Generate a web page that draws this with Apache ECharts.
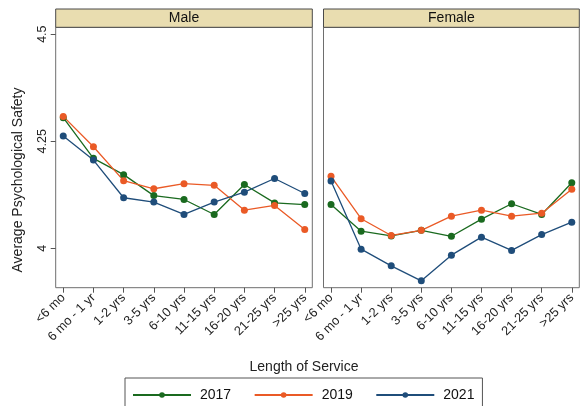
<!DOCTYPE html>
<html>
<head>
<meta charset="utf-8">
<script src="https://cdn.jsdelivr.net/npm/echarts@6/dist/echarts.min.js"></script>
<style>
  html, body { margin: 0; padding: 0; background: #fff; }
  #chart { width: 580px; height: 406px; }
</style>
</head>
<body>
<div id="chart"></div>
<script>
// Length-of-service bands shown along both panels
const serviceBands = ['<6 mo', '6 mo - 1 yr', '1-2 yrs', '3-5 yrs', '6-10 yrs', '11-15 yrs', '16-20 yrs', '21-25 yrs', '>25 yrs'];
const panels = ['Male', 'Female'];
const years = ['2017', '2019', '2021'];
const yTicks = [4, 4.25, 4.5];

// Average psychological safety by survey year, male respondents
const male2017 = [4.305, 4.210, 4.172, 4.123, 4.114, 4.079, 4.149, 4.106, 4.102];
const male2019 = [4.308, 4.237, 4.158, 4.139, 4.151, 4.147, 4.089, 4.100, 4.044];
const male2021 = [4.262, 4.206, 4.118, 4.108, 4.079, 4.108, 4.131, 4.163, 4.128];

// Average psychological safety by survey year, female respondents
const female2017 = [4.102, 4.040, 4.029, 4.042, 4.028, 4.068, 4.104, 4.079, 4.153];
const female2019 = [4.168, 4.069, 4.030, 4.042, 4.075, 4.089, 4.075, 4.082, 4.138];
const female2021 = [4.157, 3.998, 3.959, 3.924, 3.984, 4.026, 3.995, 4.032, 4.061];

const yearColors = { '2017': '#1a6a1f', '2019': '#ea5a26', '2021': '#1f4d7a' };
const FONT = '"Liberation Sans", Arial, Helvetica, sans-serif';

const panelData = [
  [male2017, male2019, male2021],
  [female2017, female2019, female2021]
];

// panel frames in pixels
const frames = [
  { left: 55.7, right: 312.3 },
  { left: 323.5, right: 579.3 }
];
const plotTop = 27.3, plotBottom = 287.7, stripTop = 9;

const chart = echarts.init(document.getElementById('chart'), null, { renderer: 'canvas' });

const grids = frames.map(f => ({
  left: f.left, width: f.right - f.left, top: plotTop, height: plotBottom - plotTop,
  show: true, borderColor: '#6e6e6e', borderWidth: 1, backgroundColor: '#fff'
}));

const xIdx = serviceBands.map((_, i) => i + 1);

const xAxes = frames.map((f, gi) => ({
  type: 'value', gridIndex: gi, min: 0.75, max: 9.25,
  axisLine: { show: false },
  splitLine: { show: false },
  axisTick: { show: true, length: 5, customValues: xIdx, lineStyle: { color: '#555' } },
  axisLabel: {
    customValues: xIdx, rotate: 45, margin: 8,
    fontFamily: FONT, fontSize: 12.8, color: '#222',
    formatter: v => serviceBands[Math.round(v) - 1] || ''
  }
}));

const yAxes = frames.map((f, gi) => ({
  type: 'value', gridIndex: gi, min: 3.908, max: 4.516,
  axisLine: { show: false },
  splitLine: { show: false },
  axisTick: { show: gi === 0, length: 5, customValues: yTicks, lineStyle: { color: '#555' } },
  axisLabel: {
    show: gi === 0, customValues: yTicks, rotate: 90, margin: 7,
    fontFamily: FONT, fontSize: 12.5, color: '#222',
    formatter: v => String(+v.toFixed(2))
  }
}));

const series = [];
panelData.forEach((sets, gi) => {
  sets.forEach((vals, si) => {
    series.push({
      type: 'line', name: years[si],
      xAxisIndex: gi, yAxisIndex: gi,
      data: vals.map((v, i) => [i + 1, v]),
      symbol: 'circle', symbolSize: 7, showSymbol: true,
      color: yearColors[years[si]],
      lineStyle: { width: 1.3, color: yearColors[years[si]] },
      itemStyle: { color: yearColors[years[si]] },
      emphasis: { disabled: true }
    });
  });
});

// panel header strips with their labels
const graphics = [];
frames.forEach((f, gi) => {
  graphics.push({
    type: 'rect', silent: true,
    shape: { x: f.left, y: stripTop, width: f.right - f.left, height: plotTop - stripTop },
    style: { fill: '#e9ddb0', stroke: '#4a4a4a', lineWidth: 1 }
  });
  graphics.push({
    type: 'text', silent: true,
    x: (f.left + f.right) / 2, y: (stripTop + plotTop) / 2,
    style: { text: panels[gi], font: '14px ' + FONT, fill: '#111', align: 'center', verticalAlign: 'middle' }
  });
});
// shared axis titles
graphics.push({
  type: 'text', silent: true, x: 304, y: 367,
  style: { text: 'Length of Service', font: '14px ' + FONT, fill: '#222', align: 'center', verticalAlign: 'middle' }
});
graphics.push({
  type: 'text', silent: true, x: 18, y: 180, rotation: Math.PI / 2,
  style: { text: 'Average Psychological Safety', font: '14px ' + FONT, fill: '#222', align: 'center', verticalAlign: 'middle' }
});

chart.setOption({
  animation: false,
  backgroundColor: '#fff',
  grid: grids,
  xAxis: xAxes,
  yAxis: yAxes,
  series: series,
  legend: {
    data: years,
    left: 125, top: 378,
    orient: 'horizontal',
    itemWidth: 58, itemHeight: 7, itemGap: 22.5,
    padding: [10, 8, 8, 7],
    borderColor: '#555', borderWidth: 1,
    textStyle: { fontFamily: FONT, fontSize: 14, color: '#111', padding: [0, 0, 0, 4] },
    selectedMode: false
  },
  graphic: graphics
});
</script>
</body>
</html>
